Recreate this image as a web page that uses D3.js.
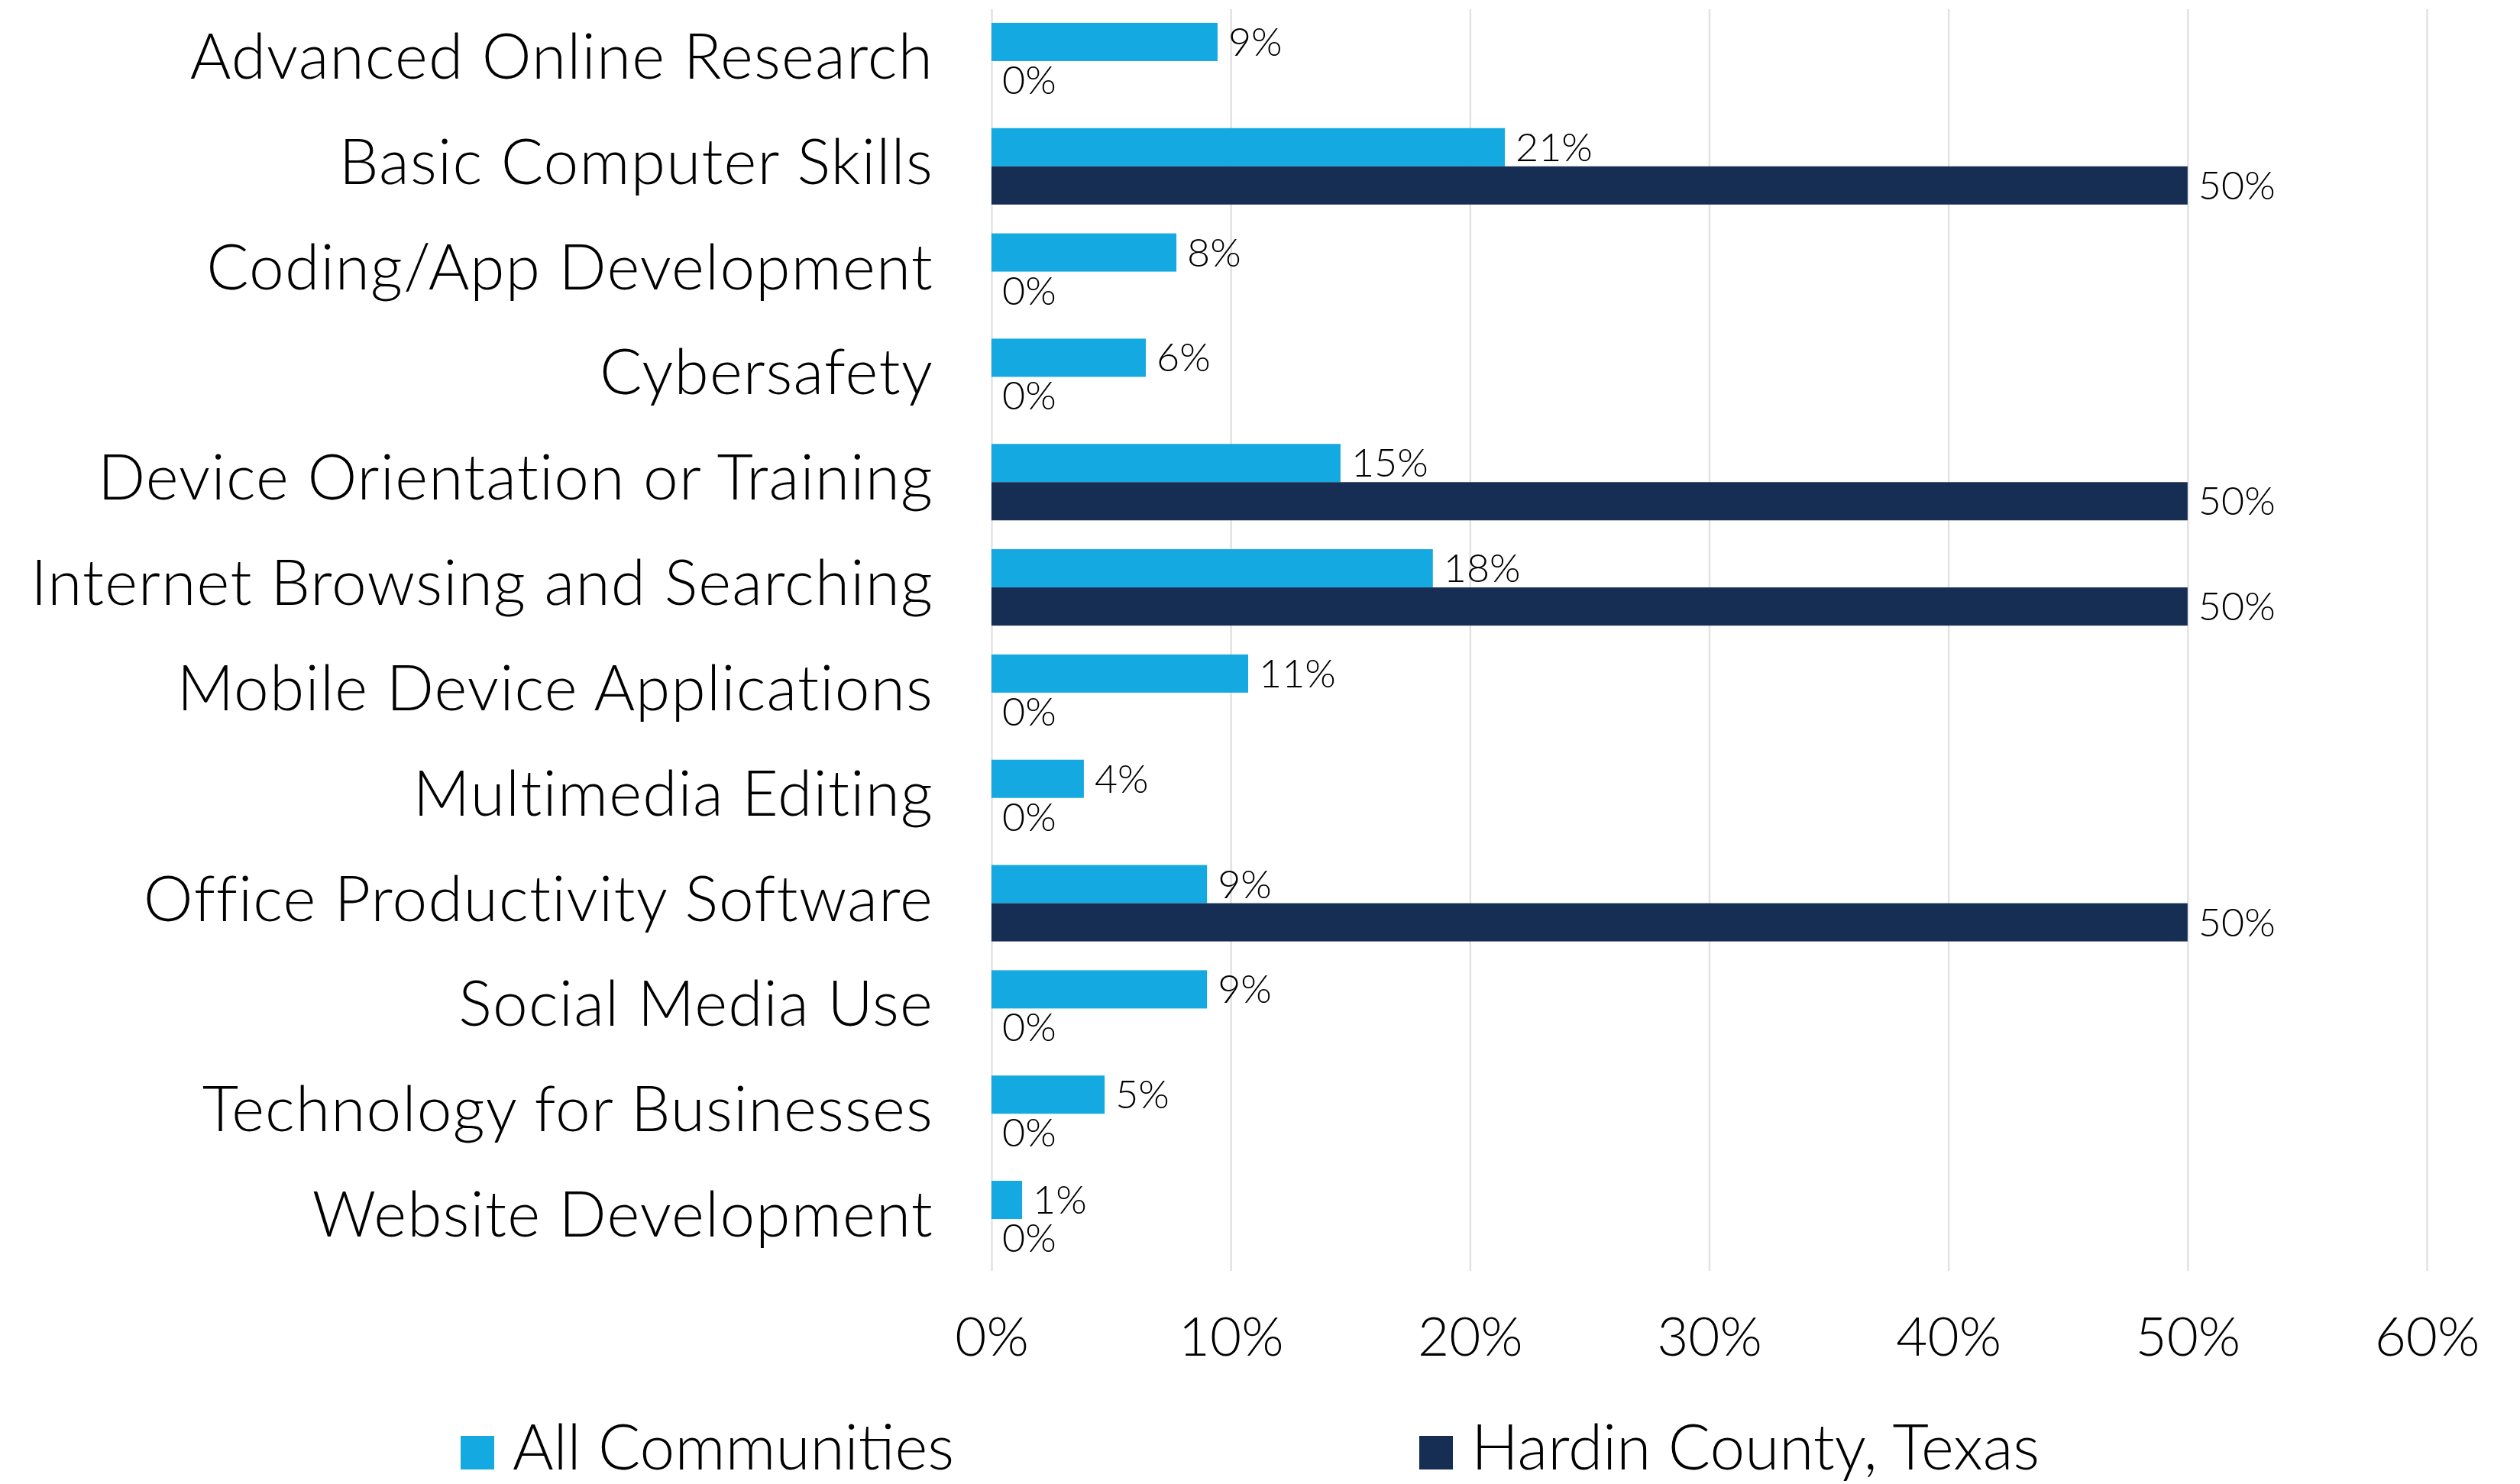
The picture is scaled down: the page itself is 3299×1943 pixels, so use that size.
<!DOCTYPE html>
<html>
<head>
<meta charset="utf-8">
<script src="https://cdn.jsdelivr.net/npm/d3@7"></script>
<style>
  html, body { margin: 0; padding: 0; background: #ffffff; }
  svg { display: block; }
  text { font-family: Lato, "Noto Sans", sans-serif; font-weight: 300; fill: #000000; }
</style>
</head>
<body>
<svg id="chart" width="3299" height="1943"></svg>
<script>
// Digital skills training topics
const categories = [
  "Advanced Online Research",
  "Basic Computer Skills",
  "Coding/App Development",
  "Cybersafety",
  "Device Orientation or Training",
  "Internet Browsing and Searching",
  "Mobile Device Applications",
  "Multimedia Editing",
  "Office Productivity Software",
  "Social Media Use",
  "Technology for Businesses",
  "Website Development"
];

const seriesNames = ["All Communities", "Hardin County, Texas"];

// Share of responses (fractions)
const allCommunities = [0.0945, 0.2146, 0.0773, 0.0645, 0.1459, 0.1845, 0.1073, 0.0386, 0.0901, 0.0901, 0.0473, 0.0128];
const hardinCounty   = [0, 0.50, 0, 0, 0.50, 0.50, 0, 0, 0.50, 0, 0, 0];

const xTicks = [0, 0.1, 0.2, 0.3, 0.4, 0.5, 0.6];

const colors = ["#15a9e1", "#162e53"];

const svg = d3.select("#chart");

const plot = { left: 1298, right: 3177, top: 12, bottom: 1664 };

const x = d3.scaleLinear().domain([0, 0.6]).range([plot.left, plot.right]);
const y = d3.scaleBand().domain(categories)
  .range([plot.top, plot.bottom])
  .paddingInner(0.274)
  .paddingOuter(0.13);
const ySub = d3.scaleBand().domain(seriesNames).range([0, y.bandwidth()]);
const color = d3.scaleOrdinal().domain(seriesNames).range(colors);
const fmt = d3.format(".0%");

// Vertical gridlines
svg.append("g")
  .attr("transform", `translate(0,${plot.bottom})`)
  .call(d3.axisBottom(x).tickValues(xTicks).tickSize(-(plot.bottom - plot.top)).tickFormat(""))
  .call(g => g.select(".domain").remove())
  .call(g => g.selectAll(".tick line").attr("stroke", "#e2e2e2").attr("stroke-width", 2.5));

// X axis labels
svg.append("g")
  .attr("transform", `translate(0,${plot.bottom})`)
  .call(d3.axisBottom(x).tickValues(xTicks).tickSize(0).tickPadding(0).tickFormat(fmt))
  .call(g => g.select(".domain").remove())
  .call(g => g.selectAll(".tick text")
    .attr("y", 111)
    .attr("dy", null)
    .style("font-family", "Lato, 'Noto Sans', sans-serif")
    .style("font-weight", 300)
    .style("font-size", "71px")
    .attr("fill", "#000"));

// Category labels
svg.append("g")
  .selectAll("text")
  .data(categories)
  .join("text")
  .attr("x", 1222)
  .attr("y", d => y(d) + y.bandwidth() / 2 + 23)
  .attr("text-anchor", "end")
  .style("font-size", "82px")
  .style("letter-spacing", "1.2px")
  .text(d => d);

// Bars
const rows = categories.map((c, i) => ({
  category: c,
  values: [
    { series: seriesNames[0], value: allCommunities[i] },
    { series: seriesNames[1], value: hardinCounty[i] }
  ]
}));

const groups = svg.append("g")
  .selectAll("g")
  .data(rows)
  .join("g")
  .attr("transform", d => `translate(0,${y(d.category)})`);

groups.selectAll("rect")
  .data(d => d.values)
  .join("rect")
  .attr("x", x(0))
  .attr("y", d => ySub(d.series))
  .attr("width", d => x(d.value) - x(0))
  .attr("height", ySub.bandwidth())
  .attr("fill", d => color(d.series));

groups.selectAll("text.value")
  .data(d => d.values)
  .join("text")
  .attr("class", "value")
  .attr("x", d => x(d.value) + 14)
  .attr("y", d => ySub(d.series) + ySub.bandwidth() / 2 + 18)
  .style("font-size", "52px")
  .text(d => fmt(d.value));

// Legend
const legendX = [603, 1858];
const legend = svg.append("g")
  .selectAll("g")
  .data(seriesNames)
  .join("g")
  .attr("transform", (d, i) => `translate(${legendX[i]},1880)`);

legend.append("rect")
  .attr("width", 44)
  .attr("height", 44)
  .attr("fill", d => color(d));

legend.append("text")
  .attr("x", 68)
  .attr("y", 44)
  .style("font-size", "82px")
  .text(d => d);
</script>
</body>
</html>
